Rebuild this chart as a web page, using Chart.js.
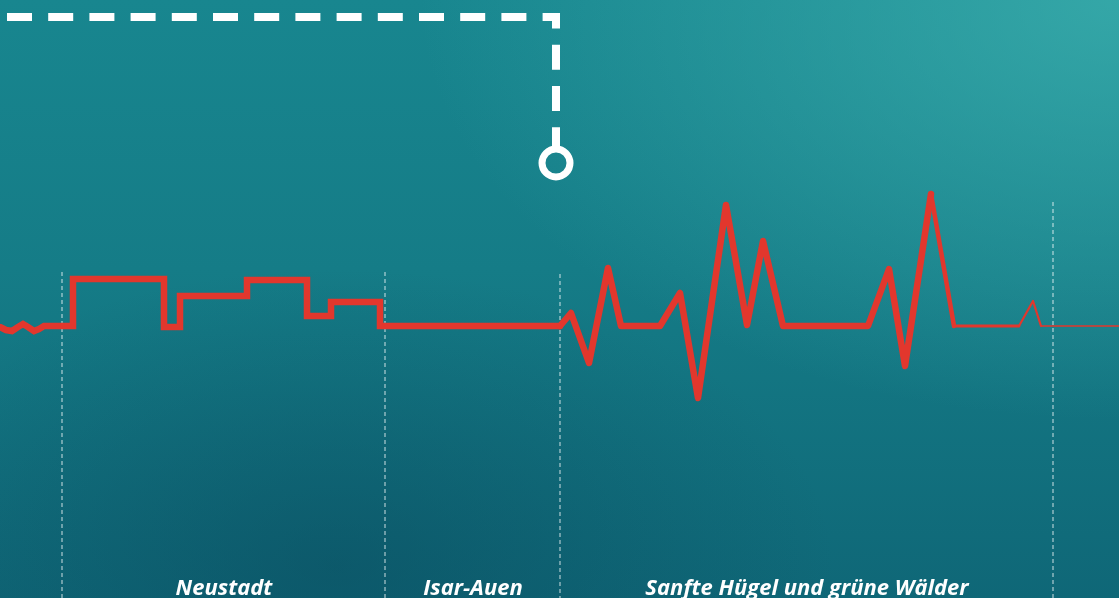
<!DOCTYPE html>
<html>
<head>
<meta charset="utf-8">
<script src="https://cdn.jsdelivr.net/npm/chart.js@4.4.1/dist/chart.umd.min.js"></script>
<style>
  html, body { margin: 0; padding: 0; }
  body {
    width: 1119px; height: 598px; overflow: hidden;
    background:
      radial-gradient(ellipse 700px 420px at 100% 0%, rgba(62,178,176,0.75), rgba(62,178,176,0) 100%),
      radial-gradient(ellipse 500px 300px at 30% 95%, rgba(8,70,90,0.45), rgba(8,70,90,0) 100%),
      linear-gradient(to bottom, #18868f 0%, #157c87 45%, #0f6777 100%);
  }
  #wrap { position: absolute; left: 0; top: 0; width: 1119px; height: 598px; }
</style>
</head>
<body>
<div id="wrap"><canvas id="routeChart" width="1119" height="598"></canvas></div>
<script>
// profile of the route: distance (x) and height above the base line (y)
const profileX = [0, 6, 12, 18, 23, 28, 34, 39, 44, 73, 73, 164, 164, 180, 180, 247, 247, 307, 307, 331, 331, 380, 380,
  560, 571, 589, 608, 621, 660, 680, 698, 726, 747, 763, 783, 868, 889, 905, 931, 954, 1019, 1033, 1041, 1119];
const profileY = [-1, -4, -5, -1, 2, -1, -5, -3, 0, 0, 47, 47, -1, -1, 30, 30, 46, 46, 10, 10, 24, 24, 0,
  0, 13, -37, 58, 0, 0, 33, -72, 121, 1, 85, 0, 0, 57, -40, 132, 0, 0, 25, 0, 0];

// section borders and their top ends
const sectionX = [62, 385, 560, 1053];
const sectionTop = [54, 54, 52, 124];
const sectionBottom = -272;

// section names and where they sit
const sectionNames = ['Neustadt', 'Isar-Auen', 'Sanfte Hügel und grüne Wälder'];
const sectionNameX = [224, 473, 807];
const sectionNameY = -269;

// white dashed pointer line and its end marker
const pointerX = [7, 556, 556];
const pointerY = [309, 309, 177];
const markerX = [556];
const markerY = [163];

const red = '#e2372d';

const toPoints = (xs, ys) => xs.map((x, i) => ({ x: x, y: ys[i] }));

// line gets thinner towards the end
const widthFor = (x) => {
  if (x < 931) return 6.5;
  if (x < 954) return 4.5;
  if (x < 1019) return 2.8;
  if (x < 1041) return 2.2;
  return 1.4;
};

const guideSets = sectionX.map((x, i) => ({
  data: [{ x: x, y: sectionTop[i] }, { x: x, y: sectionBottom }],
  borderColor: 'rgba(255,255,255,0.8)',
  borderWidth: 1,
  borderDash: [4, 3],
  pointRadius: 0,
  fill: false,
}));

const sectionLabels = {
  id: 'sectionLabels',
  afterDraw(chart) {
    const ctx = chart.ctx;
    const xs = chart.scales.x;
    const ys = chart.scales.y;
    ctx.save();
    ctx.fillStyle = '#ffffff';
    ctx.font = 'italic bold 22px "Open Sans", Lato, sans-serif';
    ctx.textAlign = 'center';
    ctx.textBaseline = 'alphabetic';
    sectionNames.forEach((name, i) => {
      ctx.fillText(name, xs.getPixelForValue(sectionNameX[i]), ys.getPixelForValue(sectionNameY));
    });
    ctx.restore();
  }
};

const ctx = document.getElementById('routeChart');
new Chart(ctx, {
  type: 'line',
  data: {
    datasets: [
      {
        data: toPoints(profileX, profileY),
        borderColor: red,
        borderWidth: 6.5,
        borderJoinStyle: 'round',
        borderCapStyle: 'round',
        pointRadius: 0,
        fill: false,
        segment: {
          borderWidth: (c) => widthFor(c.p0.parsed.x),
          borderJoinStyle: (c) => (c.p0.parsed.x < 400 ? 'miter' : 'round'),
        },
      },
      {
        data: toPoints(markerX, markerY),
        showLine: false,
        pointRadius: 14,
        pointBorderWidth: 7,
        pointBorderColor: '#ffffff',
        pointBackgroundColor: 'rgba(0,0,0,0)',
      },
      {
        data: toPoints(pointerX, pointerY),
        borderColor: '#ffffff',
        borderWidth: 8,
        borderDash: [25, 16.2],
        borderCapStyle: 'butt',
        borderJoinStyle: 'miter',
        pointRadius: 0,
        fill: false,
      },
      ...guideSets,
    ],
  },
  options: {
    responsive: false,
    animation: false,
    layout: { padding: 0, autoPadding: false },
    plugins: {
      legend: { display: false },
      tooltip: { enabled: false },
    },
    scales: {
      x: { type: 'linear', min: 0, max: 1119, display: false },
      y: { type: 'linear', min: -272, max: 326, display: false },
    },
  },
  plugins: [sectionLabels],
});
</script>
</body>
</html>
